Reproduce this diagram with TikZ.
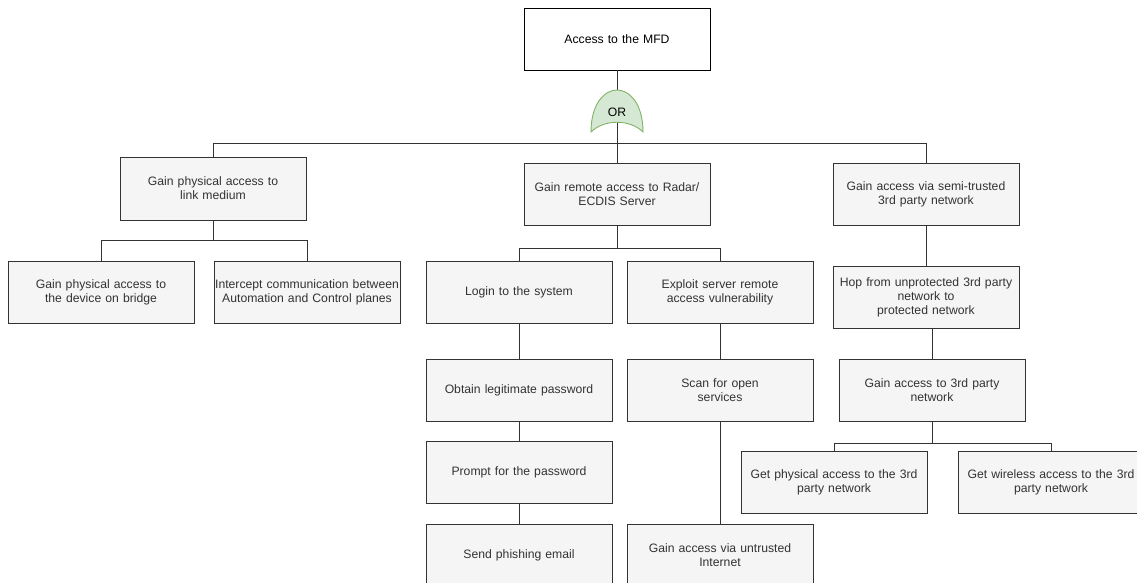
\documentclass[tikz,border=0pt]{standalone}
\usepackage{fontspec}
\setmainfont{Liberation Sans}
\definecolor{gatefill}{HTML}{D5E8D4}
\definecolor{gatedraw}{HTML}{82B366}
\definecolor{boxfill}{HTML}{F5F5F5}
\definecolor{inkgray}{HTML}{333333}
\begin{document}
\begin{tikzpicture}[x=1pt,y=-1pt,
  every node/.style={font=\fontsize{12.2}{14.2}\selectfont},
  box/.style={draw=inkgray,fill=boxfill,text=inkgray,line width=0.9pt,
    minimum width=186pt,minimum height=62pt,inner sep=0pt,
    text width=186pt,align=center},
  rootbox/.style={box,fill=white,draw=black,text=black},
  wire/.style={draw=inkgray,line width=0.9pt},
  gate/.style={fill=gatefill,draw=gatedraw,line width=0.9pt}]
\useasboundingbox (0,0) rectangle (1137,582);
\clip (0,0) rectangle (1137,582);

% root goal
\node[rootbox] (mfd) at (617,39) {Access to the MFD};

% first level
\node[box,minimum height=63pt] (phys) at (213,188.5) {Gain physical access to\\link medium};
\node[box] (remote) at (617,194) {Gain remote access to Radar/\\ECDIS Server};
\node[box] (semi) at (926,194) {Gain access via semi-trusted\\3rd party network};

% physical branch
\node[box] (dev) at (101,292) {Gain physical access to\\the device on bridge};
\node[box] (icpt) at (307,292) {Intercept communication between\\Automation and Control planes};

% remote branch
\node[box] (login) at (519,292) {Login to the system};
\node[box] (exploit) at (720,292) {Exploit server remote\\access vulnerability};
\node[box] (obtain) at (519,390) {Obtain legitimate password};
\node[box] (prompt) at (519,472.5) {Prompt for the password};
\node[box] (send) at (519,555) {Send phishing email};
\node[box] (scan) at (720,390) {Scan for open\\services};
\node[box] (untr) at (720,555) {Gain access via untrusted\\Internet};

% third-party branch
\node[box] (hop) at (926,297.5) {Hop from unprotected 3rd party\\network to\\protected network};
\node[box] (third) at (932,390) {Gain access to 3rd party\\network};
\node[box] (getphys) at (834,482.5) {Get physical access to the 3rd\\party network};
\node[box] (getwl) at (1051,482.5) {Get wireless access to the 3rd\\party network};

% OR gate bus
\coordinate (orbus) at (617,143);
\draw[wire] (mfd.south) -- (orbus);
\draw[wire] (orbus) -| (phys.north);
\draw[wire] (orbus) -| (semi.north);
\draw[wire] (orbus) -- (remote.north);

% OR gate symbol
\path[gate] (591,132) .. controls (591,103) and (605,90) .. (617,90)
  .. controls (629,90) and (643,103) .. (643,132)
  .. controls (630,119) and (604,119) .. (591,132) -- cycle;
\node (orlabel) at (617,112) {OR};

% physical branch connectors
\draw[wire] (phys.south) -- ++(0,20) -| (dev.north);
\draw[wire] (phys.south) -- ++(0,20) -| (icpt.north);

% remote branch connectors
\draw[wire] (remote.south) -- ++(0,23) -| (login.north);
\draw[wire] (remote.south) -- ++(0,23) -| (exploit.north);
\draw[wire] (login.south) -- (obtain.north);
\draw[wire] (obtain.south) -- (prompt.north);
\draw[wire] (prompt.south) -- (send.north);
\draw[wire] (exploit.south) -- (scan.north);
\draw[wire] (scan.south) -- (untr.north);

% third-party branch connectors
\draw[wire] (semi.south) -- (hop.north);
\draw[wire] (third.north |- hop.south) -- (third.north);
\draw[wire] (third.south) -- ++(0,22) -| (getphys.north);
\draw[wire] (third.south) -- ++(0,22) -| (getwl.north);
\end{tikzpicture}
\end{document}
